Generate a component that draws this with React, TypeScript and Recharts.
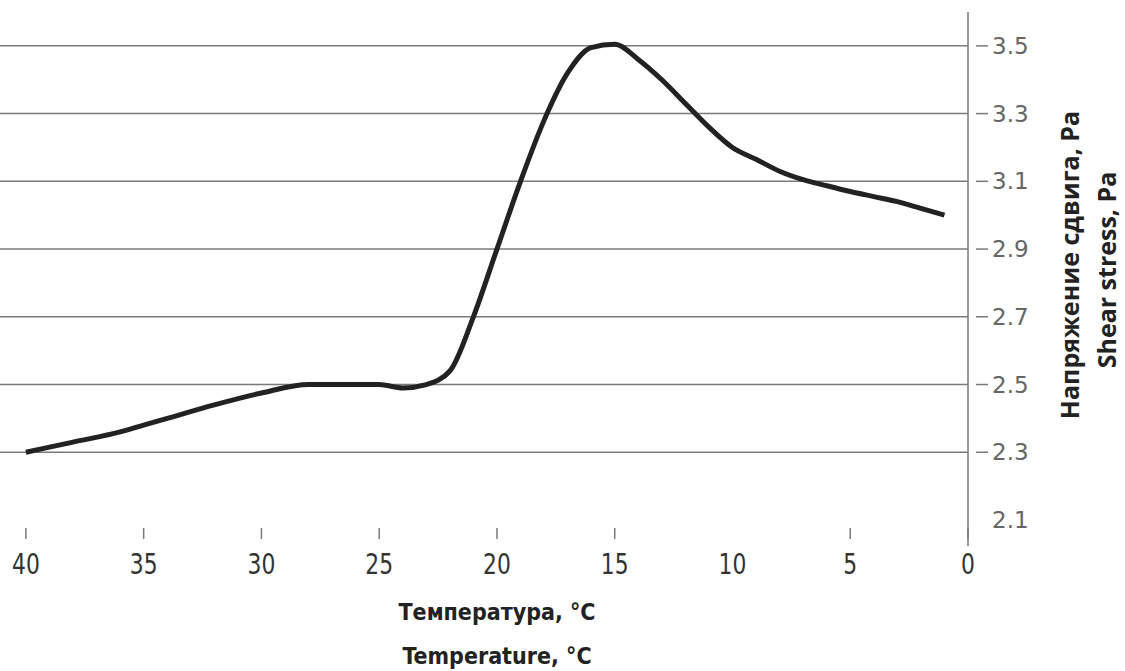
import { LineChart, Line, XAxis, YAxis, ReferenceLine } from 'recharts';

const temps = [40, 38, 36, 35, 34, 32, 30, 28, 27, 26, 25, 24, 23, 22, 21, 20, 19, 18, 17, 16, 15, 14, 13, 12, 11, 10, 9, 8, 7, 6, 5, 4, 3, 2, 1];
const stress = [2.3, 2.33, 2.36, 2.38, 2.4, 2.44, 2.475, 2.5, 2.5, 2.5, 2.5, 2.49, 2.5, 2.54, 2.7, 2.9, 3.1, 3.28, 3.42, 3.495, 3.505, 3.46, 3.4, 3.33, 3.26, 3.2, 3.165, 3.13, 3.105, 3.087, 3.07, 3.055, 3.04, 3.02, 3.0];
const xTicks = [40, 35, 30, 25, 20, 15, 10, 5, 0];
const yTicks = [2.1, 2.3, 2.5, 2.7, 2.9, 3.1, 3.3, 3.5];
const gridValues = [2.3, 2.5, 2.7, 2.9, 3.1, 3.3, 3.5];

const data = temps.map((t, i) => ({ t, v: stress[i] }));

const GRID = '#7a7a7a';

function XTick(props: any) {
  const { x, y, payload } = props;
  return (
    <g>
      {payload.value !== 10 && <line x1={x} x2={x} y1={y} y2={y + 11} stroke={GRID} strokeWidth={1.5} />}
      <text
        transform={`translate(${x},${y + 46}) scale(0.78,1)`}
        textAnchor="middle"
        fontSize={28}
        fill="#333"
        fontFamily="'DejaVu Sans', sans-serif"
      >
        {payload.value}
      </text>
    </g>
  );
}

function YTick(props: any) {
  const { x, y, payload } = props;
  return (
    <g>
      {payload.value > 2.15 && <line x1={x} x2={x + 12} y1={y} y2={y} stroke={GRID} strokeWidth={1.5} />}
      <text x={x + 16} y={y + 8} textAnchor="start" fontSize={23} fill="#666" fontFamily="'DejaVu Sans', sans-serif">
        {payload.value.toFixed(1)}
      </text>
    </g>
  );
}

const titleStyle = {
  position: 'absolute' as const,
  left: 297,
  width: 400,
  textAlign: 'center' as const,
  fontFamily: "'Liberation Sans Narrow', 'DejaVu Sans Condensed', sans-serif",
  fontWeight: 700,
  fontSize: 23,
  lineHeight: '26px',
  color: '#222',
};

export default function App() {
  return (
    <div style={{ position: 'absolute', left: 0, top: 0, width: 1125, height: 671, background: '#fff', overflow: 'hidden' }}>
      <LineChart width={1125} height={671} data={data} margin={{ top: 12, right: 0, bottom: 0, left: 0 }}>
        <XAxis
          dataKey="t"
          type="number"
          domain={[0, 41.1]}
          reversed
          ticks={xTicks}
          axisLine={false}
          tickLine={false}
          tick={<XTick />}
          height={151}
          interval={0}
        />
        <YAxis
          orientation="right"
          type="number"
          domain={[2.1, 3.6]}
          ticks={yTicks}
          axisLine={false}
          tickLine={false}
          tick={<YTick />}
          width={157}
          interval={0}
        />
        {gridValues.map((g) => (
          <ReferenceLine key={g} y={g} stroke={GRID} strokeWidth={1.5} />
        ))}
        <ReferenceLine
          segment={[{ x: 0, y: 2.023 }, { x: 0, y: 3.6 }]}
          stroke={GRID}
          strokeWidth={1.5}
          ifOverflow="visible"
        />
        <Line
          type="monotone"
          dataKey="v"
          stroke="#222"
          strokeWidth={5}
          dot={false}
          isAnimationActive={false}
        />
      </LineChart>
      <div style={{ ...titleStyle, top: 599 }}>Температура, °C</div>
      <div style={{ ...titleStyle, top: 643 }}>Temperature, °C</div>
      <div style={{ position: 'absolute', left: 1069, top: 265, width: 0, height: 0 }}>
        <div style={{ position: 'absolute', transform: 'translate(-50%, -50%) rotate(-90deg)', whiteSpace: 'nowrap', fontFamily: "'Open Sans', sans-serif", fontWeight: 700, fontSize: 25, lineHeight: '30px', color: '#222' }}>
          Напряжение сдвига, Pa
        </div>
      </div>
      <div style={{ position: 'absolute', left: 1106, top: 270, width: 0, height: 0 }}>
        <div style={{ position: 'absolute', transform: 'translate(-50%, -50%) rotate(-90deg)', whiteSpace: 'nowrap', fontFamily: "'Open Sans', sans-serif", fontWeight: 700, fontSize: 25, lineHeight: '30px', color: '#222' }}>
          Shear stress, Pa
        </div>
      </div>
    </div>
  );
}
